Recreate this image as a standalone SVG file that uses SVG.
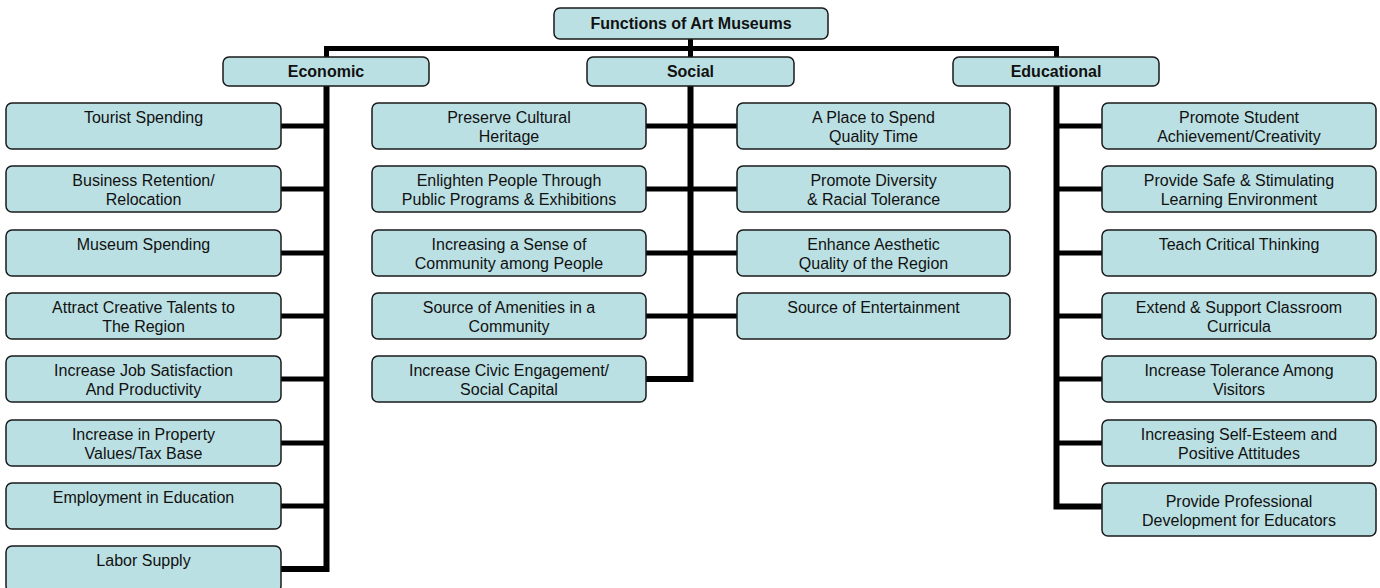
<svg xmlns="http://www.w3.org/2000/svg" width="1380" height="588" viewBox="0 0 1380 588">
  <style>
    .box { fill: #BBE0E3; stroke: #1a1a1a; stroke-width: 1.5; }
    .t { font-family: "Liberation Sans", Arial, sans-serif; font-size: 16px; fill: #111; text-anchor: middle; }
    .b { font-weight: bold; }
    .wire { fill: none; stroke: #000; stroke-width: 5; stroke-linejoin: miter; stroke-linecap: butt; }
    .spine { stroke-width: 6; }
  </style>

  <rect width="1380" height="588" fill="#fff"/>

  <!-- connectors -->
  <g id="connectors">
    <path class="wire" d="M690.5 39 V57"/>
    <path class="wire" d="M326.5 57 V48.5 H1056.5 V57"/>
    <!-- economic branch -->
    <path class="wire spine" d="M326.5 86 V569 H281"/>
    <path class="wire" d="M281 126 H326.5 M281 189 H326.5 M281 253 H326.5 M281 316 H326.5 M281 379 H326.5 M281 443 H326.5 M281 506 H326.5"/>
    <!-- social branch -->
    <path class="wire spine" d="M690.5 86 V379 H646"/>
    <path class="wire" d="M646 126 H737 M646 189 H737 M646 253 H737 M646 316 H737"/>
    <!-- educational branch -->
    <path class="wire spine" d="M1056.5 86 V506.5 H1102"/>
    <path class="wire" d="M1056.5 126 H1102 M1056.5 189 H1102 M1056.5 253 H1102 M1056.5 316 H1102 M1056.5 379 H1102 M1056.5 443 H1102"/>
  </g>

  <!-- root -->
  <g id="root">
    <rect class="box" x="554" y="8" width="274" height="31" rx="6"/>
    <text class="t b" x="691" y="29">Functions of Art Museums</text>
  </g>

  <!-- categories -->
  <g id="economic">
    <rect class="box" x="223" y="57" width="206" height="29" rx="6"/>
    <text class="t b" x="326" y="77">Economic</text>
  </g>
  <g id="social">
    <rect class="box" x="587" y="57" width="207" height="29" rx="6"/>
    <text class="t b" x="690.5" y="77">Social</text>
  </g>
  <g id="educational">
    <rect class="box" x="953" y="57" width="206" height="29" rx="6"/>
    <text class="t b" x="1056" y="77">Educational</text>
  </g>

  <!-- economic leaves -->
  <g id="eco-1">
    <rect class="box" x="6" y="103" width="275" height="46" rx="6"/>
    <text class="t" x="143.5" y="122.5">Tourist Spending</text>
  </g>
  <g id="eco-2">
    <rect class="box" x="6" y="166" width="275" height="46" rx="6"/>
    <text class="t" x="143.5" y="185.5">Business Retention/</text>
    <text class="t" x="143.5" y="204.5">Relocation</text>
  </g>
  <g id="eco-3">
    <rect class="box" x="6" y="230" width="275" height="46" rx="6"/>
    <text class="t" x="143.5" y="249.5">Museum Spending</text>
  </g>
  <g id="eco-4">
    <rect class="box" x="6" y="293" width="275" height="46" rx="6"/>
    <text class="t" x="143.5" y="312.5">Attract Creative Talents to</text>
    <text class="t" x="143.5" y="331.5">The Region</text>
  </g>
  <g id="eco-5">
    <rect class="box" x="6" y="356" width="275" height="46" rx="6"/>
    <text class="t" x="143.5" y="375.5">Increase Job Satisfaction</text>
    <text class="t" x="143.5" y="394.5">And Productivity</text>
  </g>
  <g id="eco-6">
    <rect class="box" x="6" y="420" width="275" height="46" rx="6"/>
    <text class="t" x="143.5" y="439.5">Increase in Property</text>
    <text class="t" x="143.5" y="458.5">Values/Tax Base</text>
  </g>
  <g id="eco-7">
    <rect class="box" x="6" y="483" width="275" height="46" rx="6"/>
    <text class="t" x="143.5" y="502.5">Employment in Education</text>
  </g>
  <g id="eco-8">
    <rect class="box" x="6" y="546" width="275" height="46" rx="6"/>
    <text class="t" x="143.5" y="565.5">Labor Supply</text>
  </g>

  <!-- social leaves, left column -->
  <g id="soc-l1">
    <rect class="box" x="372" y="103" width="274" height="46" rx="6"/>
    <text class="t" x="509" y="122.5">Preserve Cultural</text>
    <text class="t" x="509" y="141.5">Heritage</text>
  </g>
  <g id="soc-l2">
    <rect class="box" x="372" y="166" width="274" height="46" rx="6"/>
    <text class="t" x="509" y="185.5">Enlighten People Through</text>
    <text class="t" x="509" y="204.5">Public Programs &amp; Exhibitions</text>
  </g>
  <g id="soc-l3">
    <rect class="box" x="372" y="230" width="274" height="46" rx="6"/>
    <text class="t" x="509" y="249.5">Increasing a Sense of</text>
    <text class="t" x="509" y="268.5">Community among People</text>
  </g>
  <g id="soc-l4">
    <rect class="box" x="372" y="293" width="274" height="46" rx="6"/>
    <text class="t" x="509" y="312.5">Source of Amenities in a</text>
    <text class="t" x="509" y="331.5">Community</text>
  </g>
  <g id="soc-l5">
    <rect class="box" x="372" y="356" width="274" height="46" rx="6"/>
    <text class="t" x="509" y="375.5">Increase Civic Engagement/</text>
    <text class="t" x="509" y="394.5">Social Capital</text>
  </g>

  <!-- social leaves, right column -->
  <g id="soc-r1">
    <rect class="box" x="737" y="103" width="273" height="46" rx="6"/>
    <text class="t" x="873.5" y="122.5">A Place to Spend</text>
    <text class="t" x="873.5" y="141.5">Quality Time</text>
  </g>
  <g id="soc-r2">
    <rect class="box" x="737" y="166" width="273" height="46" rx="6"/>
    <text class="t" x="873.5" y="185.5">Promote Diversity</text>
    <text class="t" x="873.5" y="204.5">&amp; Racial Tolerance</text>
  </g>
  <g id="soc-r3">
    <rect class="box" x="737" y="230" width="273" height="46" rx="6"/>
    <text class="t" x="873.5" y="249.5">Enhance Aesthetic</text>
    <text class="t" x="873.5" y="268.5">Quality of the Region</text>
  </g>
  <g id="soc-r4">
    <rect class="box" x="737" y="293" width="273" height="46" rx="6"/>
    <text class="t" x="873.5" y="312.5">Source of Entertainment</text>
  </g>

  <!-- educational leaves -->
  <g id="edu-1">
    <rect class="box" x="1102" y="103" width="274" height="46" rx="6"/>
    <text class="t" x="1239" y="122.5">Promote Student</text>
    <text class="t" x="1239" y="141.5">Achievement/Creativity</text>
  </g>
  <g id="edu-2">
    <rect class="box" x="1102" y="166" width="274" height="46" rx="6"/>
    <text class="t" x="1239" y="185.5">Provide Safe &amp; Stimulating</text>
    <text class="t" x="1239" y="204.5">Learning Environment</text>
  </g>
  <g id="edu-3">
    <rect class="box" x="1102" y="230" width="274" height="46" rx="6"/>
    <text class="t" x="1239" y="249.5">Teach Critical Thinking</text>
  </g>
  <g id="edu-4">
    <rect class="box" x="1102" y="293" width="274" height="46" rx="6"/>
    <text class="t" x="1239" y="312.5">Extend &amp; Support Classroom</text>
    <text class="t" x="1239" y="331.5">Curricula</text>
  </g>
  <g id="edu-5">
    <rect class="box" x="1102" y="356" width="274" height="46" rx="6"/>
    <text class="t" x="1239" y="375.5">Increase Tolerance Among</text>
    <text class="t" x="1239" y="394.5">Visitors</text>
  </g>
  <g id="edu-6">
    <rect class="box" x="1102" y="420" width="274" height="46" rx="6"/>
    <text class="t" x="1239" y="439.5">Increasing Self-Esteem and</text>
    <text class="t" x="1239" y="458.5">Positive Attitudes</text>
  </g>
  <g id="edu-7">
    <rect class="box" x="1102" y="483" width="274" height="53" rx="6"/>
    <text class="t" x="1239" y="506.5">Provide Professional</text>
    <text class="t" x="1239" y="525.5">Development for Educators</text>
  </g>
</svg>
